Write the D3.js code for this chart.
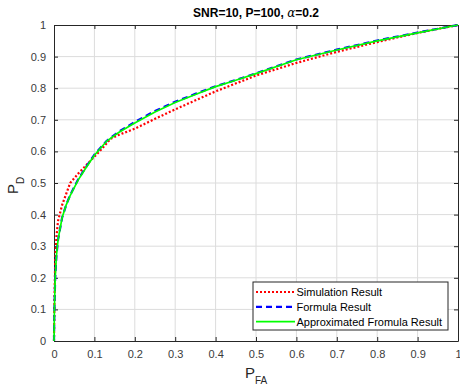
<!DOCTYPE html>
<html>
<head>
<meta charset="utf-8">
<script src="https://cdn.jsdelivr.net/npm/d3@7/dist/d3.min.js"></script>
<style>
  body { margin: 0; background: #fff; }
  svg { font-family: "Liberation Sans", Arial, sans-serif; }
  .grid line { stroke: #dcdcdc; stroke-width: 1; }
  .axis path, .axis line { stroke: #262626; }
  .axis text { fill: #3a3a3a; font-size: 11px; }
</style>
</head>
<body>
<div id="chart"></div>
<script>
// data
var xTicks = [0, 0.1, 0.2, 0.3, 0.4, 0.5, 0.6, 0.7, 0.8, 0.9, 1];
var yTicks = [0, 0.1, 0.2, 0.3, 0.4, 0.5, 0.6, 0.7, 0.8, 0.9, 1];
var tickLabels = ["0", "0.1", "0.2", "0.3", "0.4", "0.5", "0.6", "0.7", "0.8", "0.9", "1"];
var seriesNames = ["Simulation Result", "Formula Result", "Approximated Fromula Result"];

var simPfa = [0, 0.001, 0.003, 0.006, 0.01, 0.02, 0.04, 0.06, 0.09, 0.12, 0.14, 0.16, 0.2, 0.25, 0.3, 0.4, 0.5, 0.6, 0.7, 0.8, 0.9, 1];
var simPd  = [0, 0.12, 0.25, 0.33, 0.38, 0.43, 0.50, 0.53, 0.57, 0.61, 0.64, 0.652, 0.672, 0.703, 0.733, 0.79, 0.84, 0.88, 0.915, 0.946, 0.975, 1];

var formPfa = [0, 0.001, 0.003, 0.006, 0.01, 0.02, 0.03, 0.04, 0.06, 0.08, 0.1, 0.13, 0.16, 0.2, 0.25, 0.3, 0.35, 0.4, 0.45, 0.5, 0.6, 0.7, 0.8, 0.9, 1];
var formPd  = [0, 0.1, 0.2, 0.27, 0.32, 0.39, 0.43, 0.462, 0.512, 0.552, 0.59, 0.633, 0.662, 0.693, 0.728, 0.757, 0.782, 0.806, 0.826, 0.847, 0.891, 0.922, 0.951, 0.976, 1];

var apxPfa = [0, 0.001, 0.003, 0.006, 0.01, 0.02, 0.03, 0.04, 0.06, 0.08, 0.1, 0.13, 0.16, 0.2, 0.25, 0.3, 0.35, 0.4, 0.45, 0.5, 0.6, 0.7, 0.8, 0.9, 1];
var apxPd  = [0, 0.1, 0.2, 0.27, 0.32, 0.39, 0.43, 0.46, 0.51, 0.55, 0.588, 0.632, 0.66, 0.69, 0.725, 0.755, 0.78, 0.805, 0.825, 0.846, 0.89, 0.921, 0.95, 0.975, 1];

var margin = {top: 25, right: 2, bottom: 48, left: 54},
    width = 460 - margin.left - margin.right,
    height = 389 - margin.top - margin.bottom;

var svg = d3.select("#chart").append("svg")
    .attr("width", 460)
    .attr("height", 389);

var g = svg.append("g")
    .attr("transform", "translate(" + margin.left + "," + margin.top + ")");

var x = d3.scaleLinear().domain([0, 1]).range([0, width]);
var y = d3.scaleLinear().domain([0, 1]).range([height, 0]);

// grid
g.append("g").attr("class", "grid")
  .selectAll("line").data(xTicks.slice(1, -1)).enter().append("line")
  .attr("x1", d => x(d)).attr("x2", d => x(d))
  .attr("y1", 0).attr("y2", height);
g.append("g").attr("class", "grid")
  .selectAll("line").data(yTicks.slice(1, -1)).enter().append("line")
  .attr("y1", d => y(d)).attr("y2", d => y(d))
  .attr("x1", 0).attr("x2", width);

// axes (MATLAB style, ticks inside)
var xAxis = g.append("g").attr("class", "axis")
  .attr("transform", "translate(0," + height + ")")
  .call(d3.axisBottom(x).tickValues(xTicks).tickSizeInner(-4).tickSizeOuter(0)
    .tickPadding(9).tickFormat((d, i) => tickLabels[i]));
// last label sits on the window edge, nudge it in
xAxis.selectAll(".tick text").filter(d => d === 1).attr("text-anchor", "end").attr("dx", "3");
g.append("g").attr("class", "axis")
  .call(d3.axisTop(x).tickValues(xTicks).tickSizeInner(-4).tickSizeOuter(0).tickFormat(""));
g.append("g").attr("class", "axis")
  .call(d3.axisLeft(y).tickValues(yTicks).tickSizeInner(-4).tickSizeOuter(0)
    .tickPadding(8).tickFormat((d, i) => tickLabels[i]));
g.append("g").attr("class", "axis")
  .attr("transform", "translate(" + width + ",0)")
  .call(d3.axisRight(y).tickValues(yTicks).tickSizeInner(-4).tickSizeOuter(0).tickFormat(""));

// curves
var line = d3.line().x(d => x(d[0])).y(d => y(d[1]));
var simData = d3.zip(simPfa, simPd);
var formData = d3.zip(formPfa, formPd);
var apxData = d3.zip(apxPfa, apxPd);

var styles = [
  {color: "#ff0000", dash: "2,2", w: 2.2},
  {color: "#0000ff", dash: "6,4", w: 2.2},
  {color: "#00ff00", dash: null, w: 1.7}
];

[simData, formData, apxData].forEach(function(data, i) {
  g.append("path")
    .datum(data)
    .attr("fill", "none")
    .attr("stroke", styles[i].color)
    .attr("stroke-width", styles[i].w)
    .attr("stroke-dasharray", styles[i].dash)
    .attr("d", line);
});

// legend
var legend = g.append("g").attr("transform", "translate(" + (253 - margin.left) + "," + (282 - margin.top) + ")");
legend.append("rect")
  .attr("width", 195).attr("height", 48)
  .attr("fill", "#fff").attr("stroke", "#262626").attr("stroke-width", 1);
seriesNames.forEach(function(name, i) {
  var ly = 10 + i * 14.8;
  legend.append("line")
    .attr("x1", 3).attr("x2", 42).attr("y1", ly).attr("y2", ly)
    .attr("stroke", styles[i].color)
    .attr("stroke-width", styles[i].w)
    .attr("stroke-dasharray", styles[i].dash);
  legend.append("text")
    .attr("x", 43.5).attr("y", ly + 4)
    .attr("font-size", "11px").attr("fill", "#000")
    .text(name);
});

// title
var title = svg.append("text")
  .attr("x", margin.left + width / 2).attr("y", 17)
  .attr("text-anchor", "middle")
  .attr("font-size", "12px").attr("font-weight", "bold").attr("fill", "#000");
title.append("tspan").text("SNR=10, P=100, ");
title.append("tspan").attr("font-family", "DejaVu Serif, serif").attr("font-style", "italic").attr("font-weight", "normal").text("α");
title.append("tspan").text("=0.2");

// x label
var xl = svg.append("text")
  .attr("x", 245).attr("y", 378)
  .attr("font-size", "15px").attr("fill", "#262626");
xl.append("tspan").text("P");
xl.append("tspan").attr("font-size", "10px").attr("dy", 6).text("FA");

// y label
var yl = svg.append("text")
  .attr("transform", "translate(18,194) rotate(-90)")
  .attr("font-size", "15px").attr("fill", "#262626");
yl.append("tspan").text("P");
yl.append("tspan").attr("font-size", "10px").attr("dy", 6).text("D");
</script>
</body>
</html>
